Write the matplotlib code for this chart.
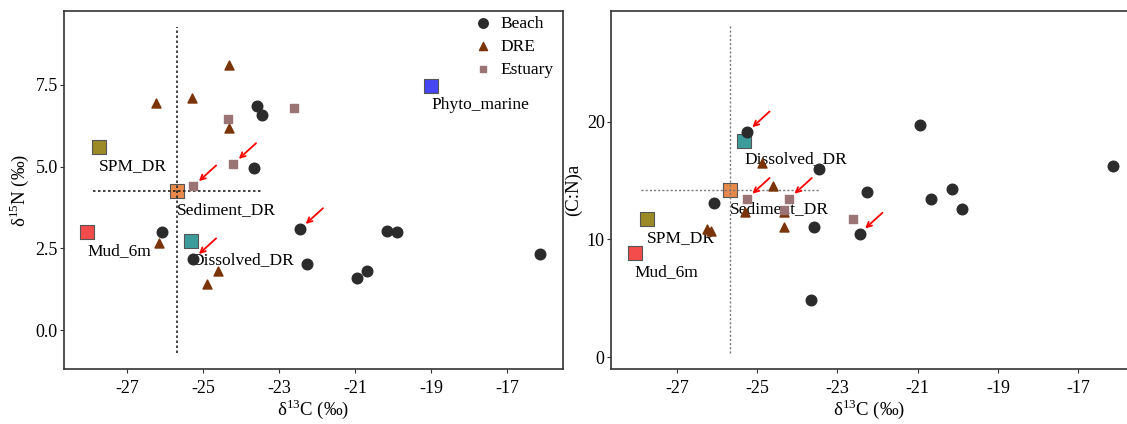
import matplotlib.pyplot as plt

plt.rcParams['font.family'] = ['Liberation Serif', 'DejaVu Serif']
plt.rcParams['mathtext.fontset'] = 'custom'
plt.rcParams['mathtext.rm'] = 'Liberation Serif'

# Beach samples
beach_c13 = [-23.58, -23.45, -23.66, -22.45, -26.08, -25.26, -22.26, -20.95, -20.68, -20.16, -19.89, -16.13]
beach_n15 = [6.85, 6.57, 4.95, 3.09, 3.00, 2.17, 2.02, 1.59, 1.80, 3.03, 3.00, 2.32]
beach_cn = [11.1, 16.0, 4.9, 10.5, 13.1, 19.1, 14.0, 19.7, 13.4, 14.3, 12.6, 16.2]

# DRE samples
dre_c13 = [-26.24, -25.29, -24.32, -24.32, -26.16, -24.89, -24.61]
dre_n15 = [6.94, 7.09, 8.10, 6.18, 2.66, 1.41, 1.80]
dre_cn = [10.9, 12.3, 12.3, 11.1, 10.7, 16.5, 14.55]

# Estuary samples
est_c13 = [-24.34, -22.61, -24.21, -25.26]
est_n15 = [6.45, 6.79, 5.08, 4.40]
est_cn = [12.5, 11.7, 13.45, 13.45]

# samples marked with red arrows
beach_flag = [3, 5]
est_flag = [2, 3]

# end-members
em_names = ['SPM_DR', 'Sediment_DR', 'Mud_6m', 'Dissolved_DR', 'Phyto_marine']
em_colors = ['#9b8a25', '#e8894a', '#f44b4b', '#3c9c9c', '#4646f2']
em_c13 = [-27.74, -25.68, -28.05, -25.32, -19.0]
em_n15 = [5.60, 4.25, 3.00, 2.72, 7.46]
em_cn = [11.7, 14.2, 8.85, 18.4]

# range lines through Sediment_DR
sed_c13_range = [-27.9, -23.43]
sed_n15_range = [-0.70, 9.27]
sed_cn_range = [0.34, 28.1]

c_beach = '#2b2b2b'
c_dre = '#7a3408'
c_est = '#9a7474'

fig = plt.figure(figsize=(11.27, 4.24), dpi=100)
ax1 = fig.add_axes([0.0568, 0.1297, 0.4428, 0.8443])
ax2 = fig.add_axes([0.5421, 0.1297, 0.4579, 0.8443])


def draw_panel(ax, beach_y, dre_y, est_y, em_y, sed_y_range, line_color, lw):
    ax.plot([em_c13[1], em_c13[1]], sed_y_range, linestyle=(0, (1.5, 1.5)), color=line_color, lw=lw, zorder=4)
    ax.plot(sed_c13_range, [em_y[1], em_y[1]], linestyle=(0, (1.5, 1.5)), color=line_color, lw=lw, zorder=4)

    for i in range(len(em_y)):
        ax.scatter(em_c13[i], em_y[i], marker='s', s=90, color=em_colors[i],
                   edgecolor='#555555', linewidth=0.8, zorder=3)
        ax.annotate(em_names[i], (em_c13[i], em_y[i]), xytext=(0, -13.5),
                    textcoords='offset points', ha='left', va='center', fontsize=12.5, zorder=2)

    ax.scatter(beach_c13, beach_y, marker='o', s=58, color=c_beach, zorder=5, label='Beach')
    ax.scatter(dre_c13, dre_y, marker='^', s=42, color=c_dre, zorder=5, label='DRE')
    ax.scatter(est_c13, est_y, marker='s', s=28, color=c_est, zorder=5, label='Estuary')

    pts = [(beach_c13[i], beach_y[i]) for i in beach_flag] + [(est_c13[i], est_y[i]) for i in est_flag]
    for x, y in pts:
        ax.annotate('', xy=(x, y), xytext=(16.5, 15), textcoords='offset points',
                    arrowprops=dict(arrowstyle='->', color='red', lw=1.3,
                                    shrinkA=0, shrinkB=5.5, mutation_scale=9), zorder=6)

    ax.set_xticks([-27, -25, -23, -21, -19, -17])
    ax.set_xticklabels(['-27', '-25', '-23', '-21', '-19', '-17'])
    ax.tick_params(labelsize=13, length=3, width=0.8, color='#333333')
    ax.tick_params(axis='x', pad=5)
    ax.tick_params(axis='y', pad=1.5)
    for s in ax.spines.values():
        s.set_color('#333333')
        s.set_linewidth(1.2)
    ax.set_xlabel('δ$^{13}$C (‰)', fontsize=13.5, labelpad=0)


draw_panel(ax1, beach_n15, dre_n15, est_n15, em_n15, sed_n15_range, '#222222', 1.2)
ax1.set_xlim(-28.66, -15.53)
ax1.set_ylim(-1.19, 9.76)
ax1.set_yticks([0, 2.5, 5.0, 7.5])
ax1.set_yticklabels(['0.0', '2.5', '5.0', '7.5'])
ax1.set_ylabel('δ$^{15}$N (‰)', fontsize=13.5, labelpad=3)
ax1.legend(loc='upper right', bbox_to_anchor=(0.987, 0.997), frameon=False, fontsize=12.5,
           handletextpad=0.35, handlelength=1.2, borderaxespad=0.0, borderpad=0.2,
           labelspacing=0.4, markerscale=0.9)

draw_panel(ax2, beach_cn, dre_cn, est_cn, em_cn, sed_cn_range, '#777777', 1.0)
ax2.set_xlim(-28.64, -15.79)
ax2.set_ylim(-1.0, 29.4)
ax2.set_yticks([0, 10, 20])
ax2.spines['right'].set_visible(False)
ax2.set_ylabel('(C:N)a', fontsize=13.5, labelpad=3)

fig.savefig('out.png', dpi=100)
